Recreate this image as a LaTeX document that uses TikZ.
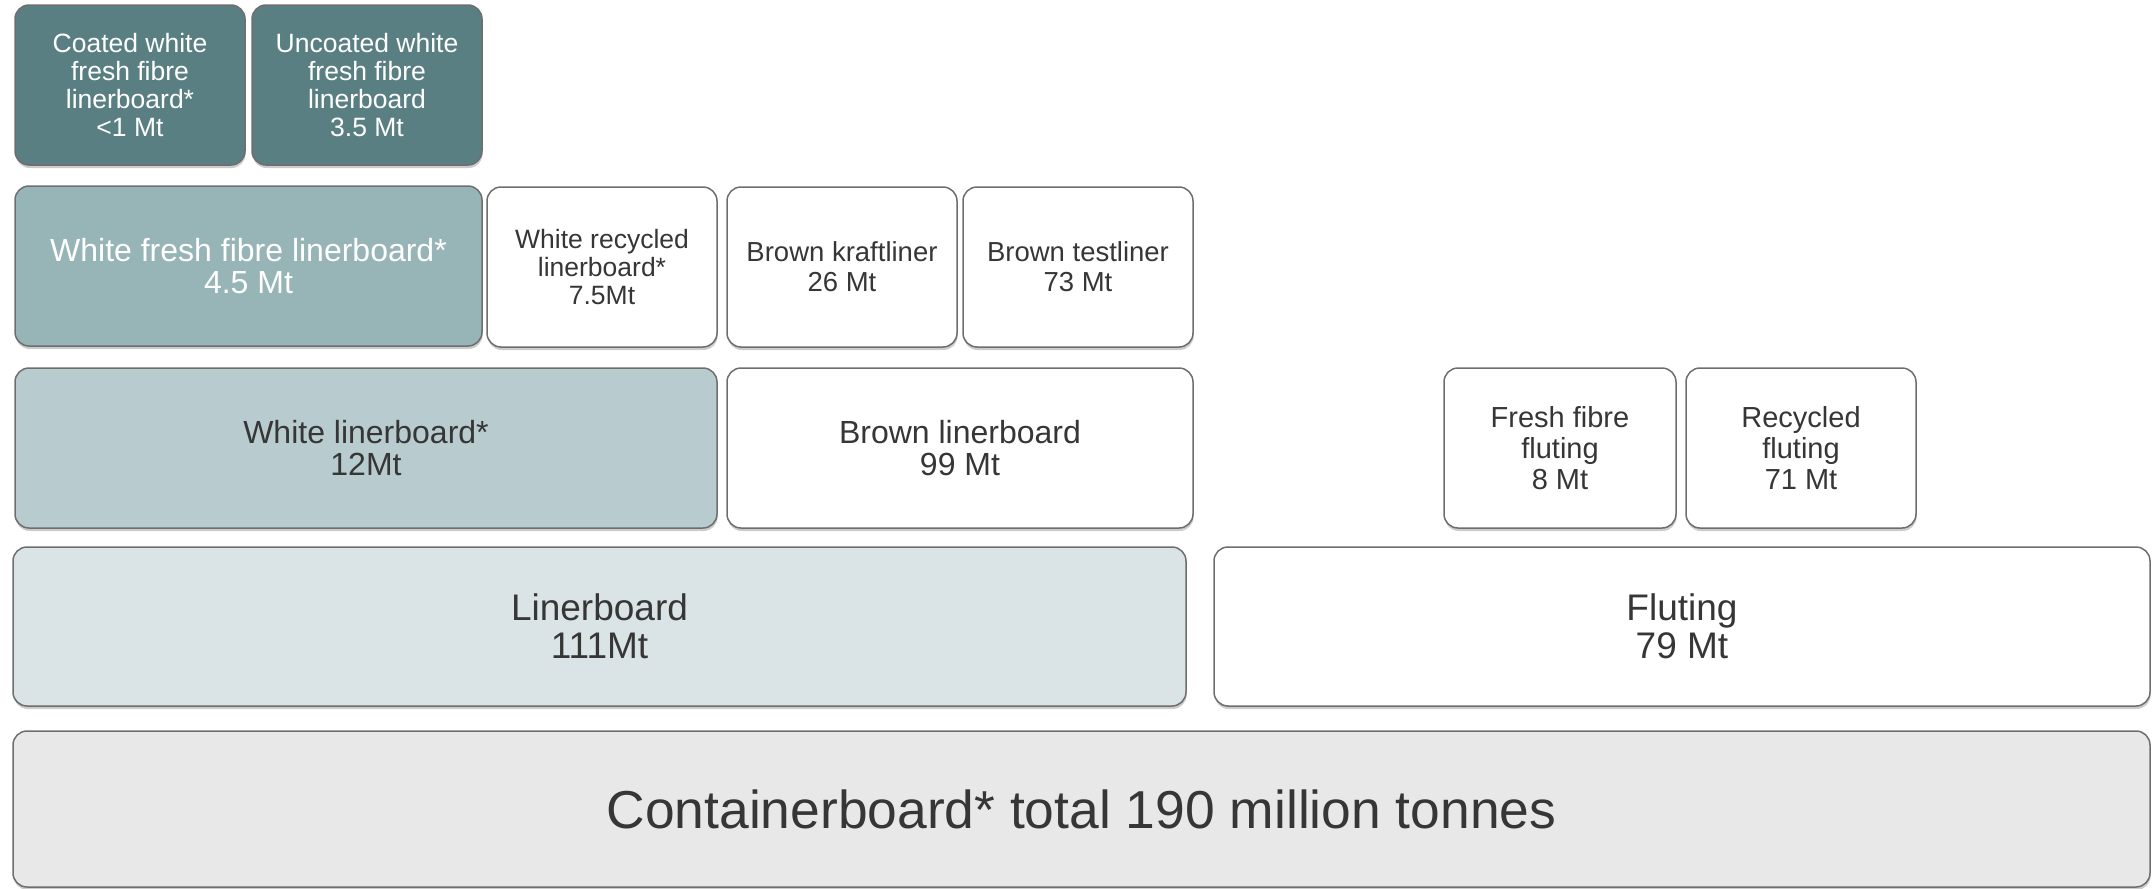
\documentclass[tikz,border=0pt]{standalone}
\usepackage{fontspec}
\setmainfont{Liberation Sans}
\usetikzlibrary{shadows}
\definecolor{tealdark}{HTML}{5A7F83}
\definecolor{tealmid}{HTML}{97B4B7}
\definecolor{teallight}{HTML}{B8CCCF}
\definecolor{tealpale}{HTML}{DAE3E5}
\definecolor{greypale}{HTML}{E8E8E8}
\definecolor{boxline}{HTML}{6E6E6E}
\definecolor{txtdark}{HTML}{363636}

\begin{document}
\begin{tikzpicture}[x=1pt,y=-1pt,
		box/.style={draw=boxline,line width=1.5pt,rounded corners=14pt,fill=white,
			inner sep=0pt,outer sep=0pt,align=center,text=txtdark,
			drop shadow={shadow xshift=0.6pt,shadow yshift=-3pt,opacity=0.4}},
		topfont/.style={font=\fontsize{26.5}{27.7}\selectfont},
		smallfont/.style={font=\fontsize{27.5}{30}\selectfont},
		flfont/.style={font=\fontsize{29}{31}\selectfont},
		midfont/.style={font=\fontsize{32}{32.5}\selectfont},
		bigfont/.style={font=\fontsize{37}{38}\selectfont},
		hugefont/.style={font=\fontsize{53.4}{56}\selectfont}]
		\useasboundingbox (0,0) rectangle (2153,889);
		
		% row 1
		\node[box,topfont,fill=tealdark,text=white,minimum width=230,minimum height=160](coated)at(130,85) {Coated white\\fresh fibre\\linerboard*\\<1 Mt};
		\node[box,topfont,fill=tealdark,text=white,minimum width=230,minimum height=160](uncoated)at(367,85) {Uncoated white\\fresh fibre\\linerboard\\3.5 Mt};
		
		% row 2
		\node[box,midfont,fill=tealmid,text=white,minimum width=467,minimum height=160](wfresh)at(248.5,266) {White fresh fibre linerboard*\\4.5 Mt};
		\node[box,topfont,minimum width=230,minimum height=160](wrecycled)at(602,267) {White recycled\\linerboard*\\7.5Mt};
		\node[box,smallfont,minimum width=230,minimum height=160](kraft)at(842,267) {Brown kraftliner\\26 Mt};
		\node[box,smallfont,minimum width=230,minimum height=160](test)at(1078,267) {Brown testliner\\73 Mt};
		
		% row 3
		\node[box,midfont,fill=teallight,minimum width=702,minimum height=160](wliner)at(366,448) {White linerboard*\\12Mt};
		\node[box,midfont,minimum width=466,minimum height=160](bliner)at(960,448) {Brown linerboard\\99 Mt};
		\node[box,flfont,minimum width=232,minimum height=160](freshflut)at(1560,448) {Fresh fibre\\fluting\\8 Mt};
		\node[box,flfont,minimum width=230,minimum height=160](recflut)at(1801,448) {Recycled\\fluting\\71 Mt};
		
		% row 4
		\node[box,bigfont,fill=tealpale,minimum width=1173,minimum height=159](liner)at(599.5,626.5) {Linerboard\\111Mt};
		\node[box,bigfont,minimum width=936,minimum height=159](fluting)at(1682,626.5) {Fluting\\79 Mt};
		
		% total
		\node[box,hugefont,fill=greypale,minimum width=2137,minimum height=156](total)at(1081.5,809) {Containerboard* total 190 million tonnes};
	\end{tikzpicture}
\end{document}
